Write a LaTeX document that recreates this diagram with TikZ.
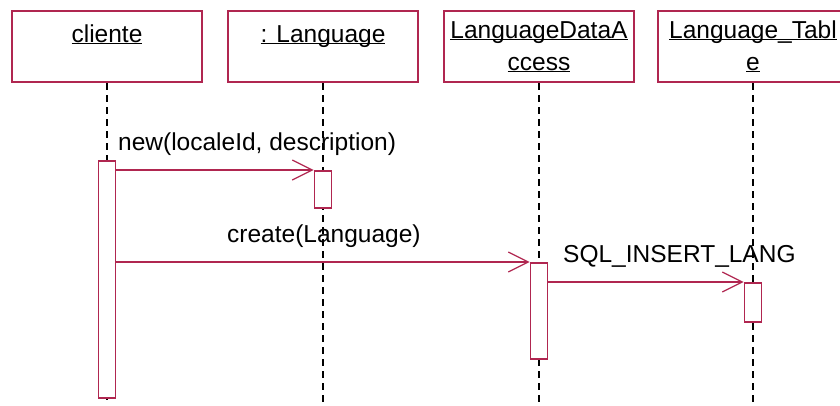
\documentclass[tikz,border=0pt]{standalone}
\usepackage{fontspec}
\setmainfont{Liberation Sans}
\usepackage{tikz}
\usetikzlibrary{arrows.meta, positioning, calc}

\definecolor{umlred}{RGB}{176,38,80}
\newcommand{\objname}[1]{\underline{\smash{#1}}}

\begin{document}
\begin{tikzpicture}[x=1pt, y=-1pt,
  every node/.style={font=\fontsize{24.5}{32}\selectfont},
  objbox/.style={draw=umlred, line width=2pt, fill=white, minimum width=190pt, minimum height=71pt, inner sep=0pt},
  act/.style={draw=umlred, line width=1.6pt, fill=white, minimum width=17pt, inner sep=0pt, anchor=north},
  life/.style={line width=2pt, dash pattern=on 7pt off 5pt},
  msg/.style={draw=umlred, line width=1.5pt, -{Straight Barb[length=20pt, width=20pt, line width=1.3pt]}},
  lbl/.style={inner sep=0pt, anchor=base west}]
  \useasboundingbox (0,0) rectangle (840,405);
  \clip (0,0) rectangle (840,405);

  % Objects
  \node[objbox] (cliente) at (107,46.5) {};
  \node[objbox] (lang) at (323,46.5) {};
  \node[objbox] (lda) at (539,46.5) {};
  \node[objbox] (table) at (753,46.5) {};

  \node[lbl, anchor=base] at (cliente.center |- 0,42) {\objname{cliente}};
  \node[lbl, anchor=base] at (lang.center |- 0,42) {\objname{: Language}};
  \node[lbl, anchor=base, align=center] at (lda.center |- 0,70) {\objname{LanguageDataA}\\\objname{ccess}};
  \node[lbl, anchor=base, align=center] at (table.center |- 0,70) {\objname{Language\_Tabl}\\\objname{e}};

  % Lifelines
  \coordinate (endCli) at (cliente.south |- 0,400);
  \coordinate (endLang) at (lang.south |- 0,405);
  \coordinate (endLda) at (lda.south |- 0,405);
  \coordinate (endTab) at (table.south |- 0,405);
  \draw[life] (cliente.south) -- (endCli);
  \draw[life] (lang.south) -- (endLang);
  \draw[life] (lda.south) -- (endLda);
  \draw[life] (table.south) -- (endTab);

  % Activations
  \node[act, minimum height=237pt] (actCli) at (cliente.south |- 0,160) {};
  \node[act, minimum height=37pt] (actLang) at (lang.south |- 0,170) {};
  \node[act, minimum height=96pt] (actLda) at (lda.south |- 0,262) {};
  \node[act, minimum height=39pt] (actTab) at (table.south |- 0,282) {};

  % Messages
  \draw[msg] (actCli.east |- actLang.north) -- (actLang.north west);
  \draw[msg] (actCli.east |- actLda.north) -- (actLda.north west);
  \draw[msg] (actLda.east |- actTab.north) -- (actTab.north west);

  \node[lbl] at (118,150) {new(localeId, description)};
  \node[lbl] at (227,242) {create(Language)};
  \node[lbl] at (563,262) {SQL\_INSERT\_LANG};
\end{tikzpicture}
\end{document}
